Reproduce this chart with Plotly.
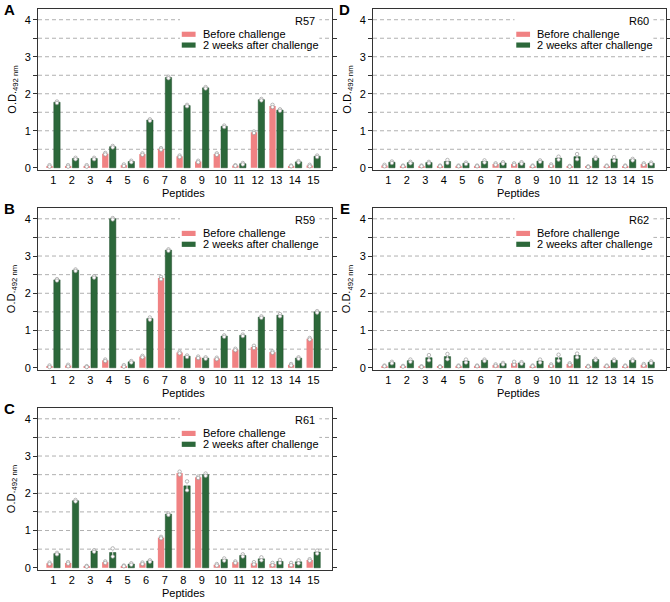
import plotly.graph_objects as go

# peptides on the x axis
peptides = list(range(1, 16))

# R57 (panel A)
r57_before = [0.05, 0.05, 0.05, 0.38, 0.07, 0.37, 0.51, 0.31, 0.17, 0.37, 0.06, 0.96, 1.67, 0.05, 0.06]
r57_after = [1.77, 0.25, 0.25, 0.57, 0.17, 1.29, 2.44, 1.68, 2.16, 1.12, 0.11, 1.84, 1.56, 0.16, 0.31]
r57_before_sd = [0.02, 0.02, 0.02, 0.02, 0.02, 0.02, 0.02, 0.02, 0.02, 0.02, 0.01, 0.02, 0.03, 0.01, 0.02]
r57_after_sd = [0.02, 0.02, 0.02, 0.02, 0.02, 0.02, 0.02, 0.02, 0.02, 0.02, 0.02, 0.02, 0.02, 0.02, 0.02]

# R59 (panel B)
r59_before = [0.04, 0.06, 0.03, 0.20, 0.05, 0.30, 2.41, 0.41, 0.28, 0.25, 0.49, 0.56, 0.42, 0.08, 0.78]
r59_after = [2.36, 2.62, 2.44, 4.00, 0.16, 1.32, 3.16, 0.31, 0.26, 0.85, 0.87, 1.36, 1.41, 0.26, 1.50]
r59_before_sd = [0.02, 0.02, 0.01, 0.02, 0.02, 0.02, 0.03, 0.02, 0.02, 0.02, 0.02, 0.03, 0.02, 0.02, 0.02]
r59_after_sd = [0.02, 0.02, 0.02, 0.02, 0.02, 0.03, 0.02, 0.02, 0.02, 0.02, 0.02, 0.02, 0.03, 0.02, 0.02]

# R61 (panel C)
r61_before = [0.12, 0.13, 0.04, 0.15, 0.05, 0.12, 0.81, 2.54, 2.43, 0.08, 0.15, 0.12, 0.10, 0.10, 0.21]
r61_after = [0.38, 1.80, 0.45, 0.41, 0.10, 0.18, 1.44, 2.20, 2.50, 0.22, 0.33, 0.24, 0.17, 0.16, 0.42]
r61_before_sd = [0.02, 0.02, 0.01, 0.02, 0.01, 0.02, 0.02, 0.04, 0.02, 0.02, 0.02, 0.03, 0.03, 0.03, 0.02]
r61_after_sd = [0.02, 0.02, 0.02, 0.11, 0.02, 0.02, 0.02, 0.12, 0.03, 0.03, 0.03, 0.04, 0.04, 0.04, 0.04]

# R60 (panel D)
r60_before = [0.06, 0.05, 0.05, 0.05, 0.05, 0.05, 0.10, 0.10, 0.05, 0.07, 0.04, 0.03, 0.05, 0.05, 0.10]
r60_after = [0.15, 0.14, 0.14, 0.17, 0.12, 0.17, 0.13, 0.13, 0.18, 0.26, 0.30, 0.26, 0.24, 0.22, 0.12]
r60_before_sd = [0.02, 0.01, 0.01, 0.01, 0.01, 0.01, 0.02, 0.02, 0.01, 0.02, 0.01, 0.01, 0.01, 0.01, 0.02]
r60_after_sd = [0.02, 0.02, 0.02, 0.04, 0.02, 0.03, 0.02, 0.02, 0.02, 0.04, 0.07, 0.02, 0.05, 0.02, 0.02]

# R62 (panel E)
r62_before = [0.05, 0.04, 0.03, 0.03, 0.05, 0.05, 0.07, 0.12, 0.05, 0.07, 0.10, 0.04, 0.05, 0.05, 0.08]
r62_after = [0.14, 0.19, 0.27, 0.30, 0.18, 0.20, 0.11, 0.13, 0.18, 0.27, 0.33, 0.22, 0.20, 0.20, 0.15]
r62_before_sd = [0.01, 0.01, 0.01, 0.01, 0.01, 0.01, 0.02, 0.04, 0.01, 0.02, 0.02, 0.01, 0.01, 0.01, 0.02]
r62_after_sd = [0.02, 0.03, 0.07, 0.07, 0.04, 0.02, 0.02, 0.02, 0.04, 0.08, 0.05, 0.02, 0.02, 0.02, 0.02]

legend_labels = ["Before challenge", "2 weeks after challenge"]
grid_levels = [0.5, 1.0, 1.5, 2.0, 2.5, 3.0, 3.5, 4.0]

PINK = "#F08283"
GREEN = "#2C683A"
FONT = "Liberation Sans, Arial, sans-serif"
W, H = 670, 602

panels = [
    # letter, rabbit, before, after, sd before, sd after, (left, top, right, bottom) px
    ("A", "R57", r57_before, r57_after, r57_before_sd, r57_after_sd, (38, 9, 332, 170)),
    ("B", "R59", r59_before, r59_after, r59_before_sd, r59_after_sd, (38, 208, 332, 370)),
    ("C", "R61", r61_before, r61_after, r61_before_sd, r61_after_sd, (38, 408, 332, 570)),
    ("D", "R60", r60_before, r60_after, r60_before_sd, r60_after_sd, (373, 9, 666, 170)),
    ("E", "R62", r62_before, r62_after, r62_before_sd, r62_after_sd, (373, 208, 666, 370)),
]

fig = go.Figure()
shapes = []
annotations = []

for i, (letter, rabbit, before, after, sd_b, sd_a, box) in enumerate(panels):
    n = "" if i == 0 else str(i + 1)
    xa, ya = "x" + n, "y" + n
    left, top, right, bottom = box

    for vals, sd, col, off in [(before, sd_b, PINK, -0.37), (after, sd_a, GREEN, 0.03)]:
        fig.add_trace(go.Bar(
            x=peptides, y=vals, width=0.34, offset=off,
            marker=dict(color=col, line=dict(width=0.5 if col == GREEN else 0,
                                             color="#1d4a28")),
            error_y=dict(type="data", array=sd, color="#e8e8e8", thickness=1, width=1.5),
            xaxis=xa, yaxis=ya, showlegend=False, hoverinfo="y",
        ))
        # replicate readings (mean +/- sd) as small open circles
        centre = off + 0.17
        fig.add_trace(go.Scatter(
            x=[p + centre for p in peptides] * 2,
            y=[v + s for v, s in zip(vals, sd)] + [v - s for v, s in zip(vals, sd)],
            mode="markers",
            marker=dict(symbol="circle", size=3.5, color="white",
                        line=dict(color="#9a9a9a", width=0.7)),
            xaxis=xa, yaxis=ya, showlegend=False, hoverinfo="skip",
        ))

    fig.layout["xaxis" + n] = dict(
        domain=[left / W, right / W], anchor=ya, range=[0.18, 16.0], automargin=False,
        tickmode="array", tickvals=peptides, ticktext=[str(p) for p in peptides],
        ticks="", showgrid=False, zeroline=False,
        showline=True, linecolor="#333", linewidth=1, mirror=True,
        tickfont=dict(size=11, color="black", family=FONT),
    )
    fig.layout["yaxis" + n] = dict(
        domain=[1 - bottom / H, 1 - top / H], anchor=xa, range=[-0.06, 4.29], automargin=False,
        tickmode="array", tickvals=[0, 1, 2, 3, 4], ticktext=["0", "1", "2", "3", "4"],
        ticks="outside", ticklen=4, tickcolor="#333",
        minor=dict(dtick=0.5, tick0=0, ticks="outside", ticklen=4, tickcolor="#333",
                   showgrid=False),
        showgrid=False, zeroline=False,
        showline=True, linecolor="#333", linewidth=1, mirror="allticks",
        tickfont=dict(size=11, color="black", family=FONT),
    )

    dx, dy = xa + " domain", ya + " domain"
    # dashed grid lines, drawn below the bars
    for g in grid_levels:
        shapes.append(dict(type="line", xref=dx, yref=ya, x0=0, x1=1, y0=g, y1=g,
                           line=dict(color="#b0b0b0", width=1, dash="4px,3px"), layer="below"))
    # white box behind the legend hides the grid there
    shapes.append(dict(type="rect", xref=dx, yref=dy, x0=0.483, x1=0.957, y0=0.76, y1=0.997,
                       fillcolor="white", line=dict(width=0), layer="below"))
    # legend swatches and labels
    for lab, col, yy in [(legend_labels[0], PINK, 0.843), (legend_labels[1], GREEN, 0.776)]:
        shapes.append(dict(type="rect", xref=dx, yref=dy, x0=0.489, x1=0.536,
                           y0=yy - 0.016, y1=yy + 0.016, fillcolor=col, line=dict(width=0)))
        annotations.append(dict(text=lab, xref=dx, yref=dy, x=0.553, y=yy, xanchor="left",
                                yanchor="middle", showarrow=False,
                                font=dict(size=11, color="black", family=FONT)))
    annotations.append(dict(text=rabbit, xref=dx, yref=dy, x=0.948, y=0.925, xanchor="right",
                            yanchor="middle", showarrow=False,
                            font=dict(size=11, color="black", family=FONT)))
    annotations.append(dict(text="<b>" + letter + "</b>", xref=dx, yref=dy, x=-0.097, y=0.995,
                            xanchor="center", yanchor="middle", showarrow=False,
                            font=dict(size=15, color="black", family=FONT)))
    annotations.append(dict(text="O.D.<sub>492 nm</sub>", xref=dx, yref=dy, x=-0.088, y=0.5,
                            xanchor="center", yanchor="middle", textangle=-90, showarrow=False,
                            font=dict(size=11, color="black", family=FONT)))
    annotations.append(dict(text="Peptides", xref=dx, yref=dy, x=0.495, y=-0.143,
                            xanchor="center", yanchor="middle", showarrow=False,
                            font=dict(size=11, color="black", family=FONT)))

fig.update_layout(
    template="none",
    width=W, height=H,
    margin=dict(l=0, r=0, t=0, b=0),
    paper_bgcolor="white", plot_bgcolor="white",
    barmode="overlay",
    shapes=shapes, annotations=annotations,
    font=dict(family=FONT, color="black"),
)

# drop the default page margin so the figure sits at the window's corner
fig.write_html("out.html", config={"displayModeBar": False},
               post_script="document.body.style.margin='0';")
